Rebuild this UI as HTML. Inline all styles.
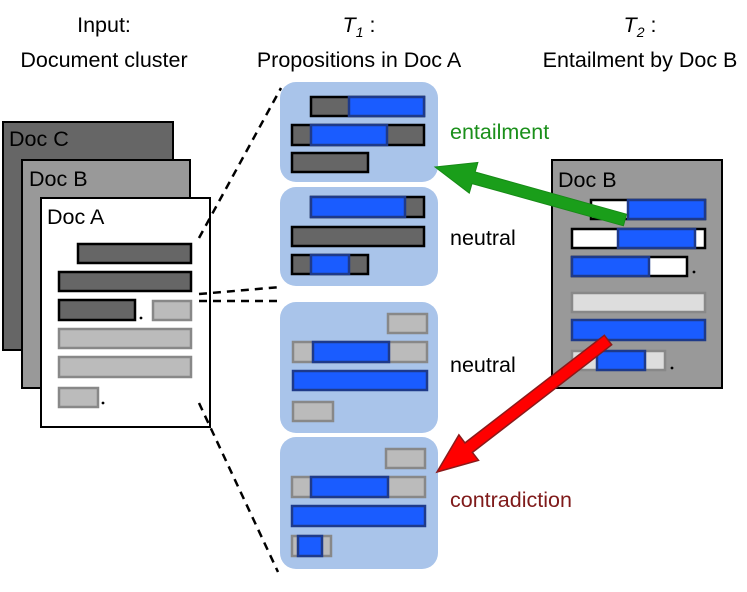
<!DOCTYPE html>
<html><head><meta charset="utf-8"><style>
html,body{margin:0;padding:0;background:#fff;}
svg{display:block;font-family:"Liberation Sans",Arial,sans-serif;}
</style></head><body>
<svg width="747" height="592" viewBox="0 0 747 592" xmlns="http://www.w3.org/2000/svg">
<g font-size="21.5" fill="#000" text-anchor="middle">
<text x="104" y="32">Input:</text>
<text x="104" y="67">Document cluster</text>
<text x="359" y="32"><tspan font-style="italic">T</tspan><tspan font-style="italic" font-size="14" dy="5">1</tspan><tspan dy="-5"> :</tspan></text>
<text x="359" y="67">Propositions in Doc A</text>
<text x="640" y="32"><tspan font-style="italic">T</tspan><tspan font-style="italic" font-size="14" dy="5">2</tspan><tspan dy="-5"> :</tspan></text>
<text x="640" y="67">Entailment by Doc B</text>
</g>
<rect x="3" y="122" width="170" height="228" fill="#666" stroke="#000" stroke-width="2"/>
<text x="9" y="146" font-size="21.5">Doc C</text>
<rect x="22" y="160" width="168" height="228" fill="#999" stroke="#000" stroke-width="2"/>
<text x="29" y="186" font-size="21.5">Doc B</text>
<rect x="41" y="198" width="169" height="229" fill="#fff" stroke="#000" stroke-width="2"/>
<text x="47" y="224" font-size="21.5">Doc A</text>
<g stroke="#000" stroke-width="2.5" fill="#666">
<rect x="78" y="244" width="113" height="19"/>
<rect x="59" y="272" width="132" height="19"/>
<rect x="59" y="300" width="76" height="20"/>
</g>
<g stroke="#888" stroke-width="2.5" fill="#bbb">
<rect x="153" y="301" width="38" height="19"/>
<rect x="59" y="329" width="132" height="19"/>
<rect x="59" y="357" width="132" height="20"/>
<rect x="59" y="388" width="39" height="19"/>
</g>
<circle cx="141" cy="318" r="1.4"/><circle cx="103" cy="403" r="1.4"/>
<g stroke="#000" stroke-width="2.5" stroke-dasharray="8,6" fill="none">
<line x1="199" y1="238" x2="281" y2="88"/>
<line x1="199" y1="294" x2="281" y2="287"/>
<line x1="199" y1="301" x2="281" y2="301"/>
<line x1="199" y1="403" x2="278" y2="572"/>
</g>
<g fill="#a9c4ea">
<rect x="280" y="82" width="158" height="100" rx="16"/>
<rect x="280" y="187" width="158" height="99" rx="16"/>
<rect x="280" y="302" width="158" height="131" rx="16"/>
<rect x="280" y="437" width="158" height="132" rx="16"/>
</g>
<g stroke="#000" stroke-width="2.5" fill="#666">
<rect x="311" y="97" width="113" height="19"/>
<rect x="292" y="125" width="132" height="20"/>
<rect x="292" y="153" width="76" height="19"/>
<rect x="311" y="197" width="113" height="20"/>
<rect x="292" y="227" width="132" height="19"/>
<rect x="292" y="255" width="76" height="19"/>
</g>
<g stroke="#888" stroke-width="2.5" fill="#bbb">
<rect x="388" y="314" width="39" height="19"/>
<rect x="293" y="342" width="134" height="20"/>
<rect x="293" y="402" width="40" height="19"/>
<rect x="386" y="449" width="39" height="19"/>
<rect x="292" y="477" width="133" height="20"/>
<rect x="292" y="536" width="39" height="20"/>
</g>
<g stroke="#1e3a8a" stroke-width="2.5" fill="#1a5cff">
<rect x="349" y="97" width="75" height="19"/>
<rect x="311" y="125" width="76" height="20"/>
<rect x="311" y="197" width="94" height="20"/>
<rect x="311" y="255" width="38" height="19"/>
<rect x="313" y="342" width="76" height="20"/>
<rect x="293" y="371" width="134" height="19"/>
<rect x="311" y="477" width="77" height="20"/>
<rect x="292" y="506" width="133" height="20"/>
<rect x="298" y="536" width="24" height="20"/>
</g>
<g font-size="21.5">
<text x="450" y="139" fill="#1a8f1a">entailment</text>
<text x="450" y="245">neutral</text>
<text x="450" y="372">neutral</text>
<text x="450" y="507" fill="#7f1a1a">contradiction</text>
</g>
<rect x="552" y="160" width="170" height="228" fill="#999" stroke="#000" stroke-width="2"/>
<text x="558" y="187" font-size="21.5">Doc B</text>
<g stroke="#000" stroke-width="2.5" fill="#fff">
<rect x="591" y="200" width="114" height="19"/>
<rect x="572" y="229" width="133" height="19"/>
<rect x="572" y="257" width="115" height="19"/>
</g>
<g stroke="#888" stroke-width="2.5" fill="#ddd">
<rect x="572" y="293" width="133" height="19"/>
<rect x="572" y="351" width="93" height="19"/>
</g>
<g stroke="#1e3a8a" stroke-width="2.5" fill="#1a5cff">
<rect x="628" y="200" width="77" height="19"/>
<rect x="618" y="229" width="77" height="19"/>
<rect x="572" y="257" width="77" height="19"/>
<rect x="572" y="320" width="133" height="20"/>
<rect x="597" y="351" width="48" height="19"/>
</g>
<circle cx="694" cy="272" r="1.4"/><circle cx="672" cy="368" r="1.4"/>
<polygon points="626.6,214.2 475.2,172 477.9,162.4 435,167 469.3,193.2 472,183.6 623.4,225.8" fill="#1a9e1a" stroke="#178a17" stroke-width="1"/>
<polygon points="604.3,335.3 465,442.9 458.9,434.9 437,472 478.5,460.3 472.4,452.4 611.7,344.8" fill="#f00" stroke="#8b1a1a" stroke-width="1.5"/>
</svg>
</body></html>
